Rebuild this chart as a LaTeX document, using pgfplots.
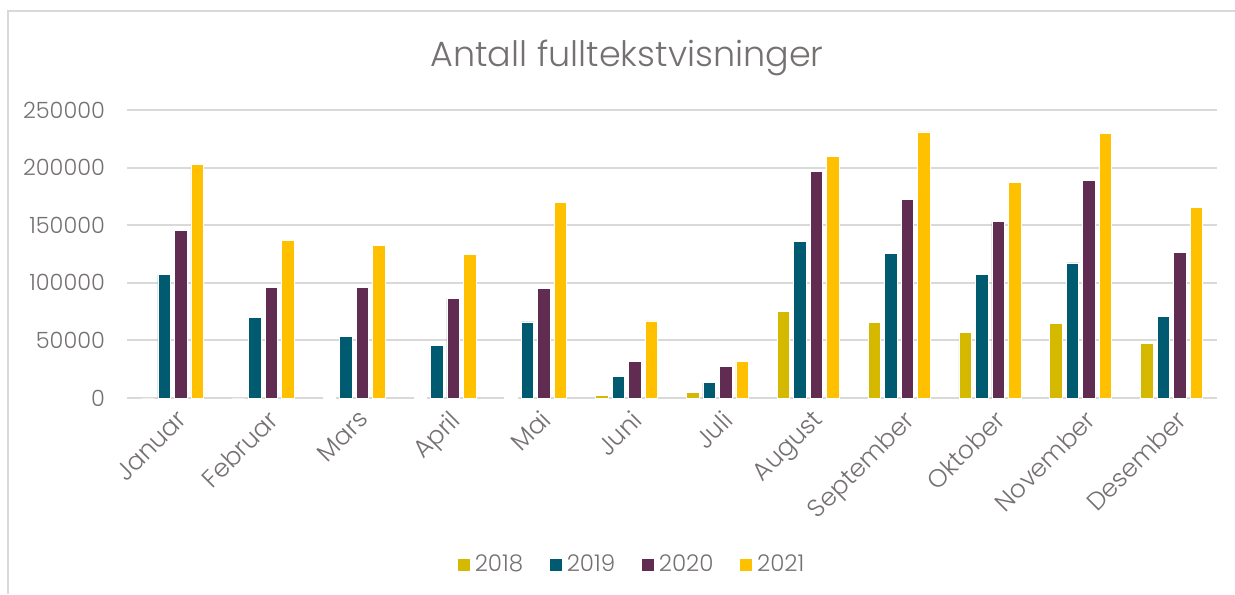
\documentclass[border=0pt]{standalone}
\usepackage{fontspec}
\setmainfont{Poppins}[UprightFont=* Light]
\usepackage{pgfplots}
\pgfplotsset{compat=1.18}
\definecolor{c18}{HTML}{D4B900}
\definecolor{c19}{HTML}{005A70}
\definecolor{c20}{HTML}{612C51}
\definecolor{c21}{HTML}{FFC000}
\definecolor{txt}{HTML}{767171}
\definecolor{gridc}{HTML}{D9D9D9}
\pgfplotsset{sqleg/.style={legend image code/.code={\fill[##1] (0pt,-3.25pt) rectangle (6.5pt,3.25pt);}}}
\begin{document}
\begin{tikzpicture}
\begin{axis}[
  scale only axis, width=545pt, height=144pt,
  xmin=-0.5, xmax=11.5, ymin=0, ymax=250000,
  ytick={0,50000,100000,150000,200000,250000},
  scaled y ticks=false,
  /pgf/number format/assume math mode=true,
  yticklabel style={/pgf/number format/fixed, /pgf/number format/1000 sep={}, anchor=east, xshift=-7.5pt, font=\fontsize{11.2}{12}\selectfont},
  xtick={0,...,11},
  xticklabels={Januar,Februar,Mars,April,Mai,Juni,Juli,August,September,Oktober,November,Desember},
  xticklabel style={rotate=45, anchor=north east, font=\fontsize{12.5}{13}\selectfont, yshift=-1.5pt, xshift=1pt},
  major tick length=0pt,
  axis x line*=bottom, axis y line*=left,
  separate axis lines,
  x axis line style={draw=gridc, line width=1pt, -},
  y axis line style={draw=none},
  ymajorgrids, grid style={draw=gridc, line width=1pt},
  tick label style={text=txt},
  legend columns=4,
  legend style={at={(0.4640,-0.58)}, anchor=center, draw=none, fill=none,
    font=\fontsize{11.5}{12}\selectfont, text=txt,
    /tikz/every even column/.append style={column sep=11pt},
    /tikz/every odd column/.append style={column sep=0pt}},
  legend cell align=left,
]
\addplot[ybar, bar width=0.1376, bar shift=-0.2725, fill=c18, draw=white, line width=0.3pt, sqleg]
  coordinates {(0,0) (1,0) (2,300) (3,500) (4,300) (5,2000) (6,5200) (7,75000) (8,65400) (9,56700) (10,64500) (11,47400)};
\addplot[ybar, bar width=0.1376, bar shift=-0.0908, fill=c19, draw=white, line width=0.3pt, sqleg]
  coordinates {(0,107000) (1,70000) (2,53500) (3,46000) (4,66000) (5,18500) (6,13300) (7,136000) (8,125800) (9,107000) (10,117200) (11,70600)};
\addplot[ybar, bar width=0.1376, bar shift=0.0908, fill=c20, draw=white, line width=0.3pt, sqleg]
  coordinates {(0,145200) (1,96000) (2,96000) (3,86800) (4,94900) (5,31500) (6,27500) (7,197000) (8,172700) (9,153000) (10,188600) (11,126100)};
\addplot[ybar, bar width=0.1376, bar shift=0.2725, fill=c21, draw=white, line width=0.3pt, sqleg]
  coordinates {(0,203000) (1,136500) (2,132500) (3,125000) (4,170000) (5,67000) (6,31500) (7,209800) (8,231000) (9,186900) (10,229400) (11,165200)};
\legend{2018,2019,2020,2021}
\end{axis}
\path[use as bounding box] (-63.5pt,-98pt) rectangle (554pt,199pt);
\draw[gridc, line width=0.75pt] (-59.5pt,-98pt) -- (-59.5pt,193.5pt) -- (554pt,193.5pt);
\node[anchor=base, text=txt, font=\fontsize{17.5}{20}\selectfont] at (250pt,165.5pt) {Antall fulltekstvisninger};
\end{tikzpicture}
\end{document}
